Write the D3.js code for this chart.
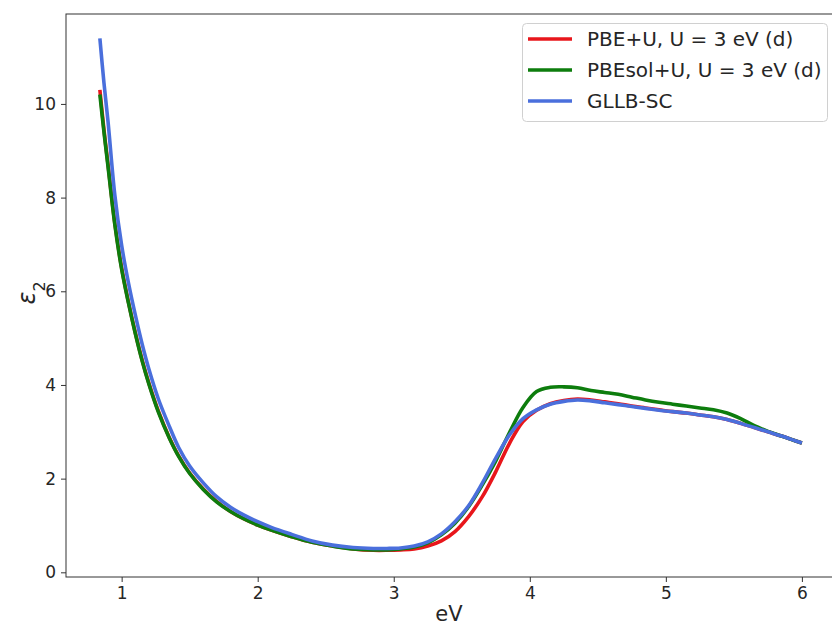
<!DOCTYPE html>
<html>
<head>
<meta charset="utf-8">
<script src="https://cdn.jsdelivr.net/npm/d3@7"></script>
<style>
  html, body { margin: 0; padding: 0; background: #fff; }
  svg { display: block; }
  text { font-family: "DejaVu Sans", sans-serif; fill: #262626; }
</style>
</head>
<body>
<svg id="chart" width="832" height="626"></svg>
<script>
// ---- Data ----
const xTicks = [1, 2, 3, 4, 5, 6];
const yTicks = [0, 2, 4, 6, 8, 10];
const seriesNames = ["PBE+U, U = 3 eV (d)", "PBEsol+U, U = 3 eV (d)", "GLLB-SC"];
const seriesColors = ["#e8161b", "#0d7d0d", "#4a6fdc"];

const energy = [0.84, 0.87, 0.90, 0.95, 1.00, 1.05, 1.10, 1.15, 1.20, 1.27, 1.35, 1.42, 1.50, 1.60, 1.70,
  1.80, 1.90, 2.00, 2.10, 2.25, 2.40, 2.55, 2.70, 2.85, 2.95, 3.05, 3.15, 3.25, 3.35, 3.45,
  3.55, 3.65, 3.75, 3.85, 3.95, 4.05, 4.15, 4.25, 4.35, 4.45, 4.55, 4.65, 4.75, 4.85, 4.95,
  5.05, 5.15, 5.25, 5.35, 5.45, 5.55, 5.65, 5.75, 5.85, 5.95, 6.00];

const pbeU = [10.30, 9.45, 8.70, 7.45, 6.50, 5.77, 5.12, 4.54, 4.04, 3.44, 2.88, 2.48, 2.12, 1.78, 1.51,
  1.30, 1.14, 1.01, 0.90, 0.76, 0.64, 0.56, 0.50, 0.47, 0.47, 0.48, 0.50, 0.56, 0.67, 0.87,
  1.19, 1.61, 2.15, 2.75, 3.22, 3.46, 3.60, 3.67, 3.70, 3.68, 3.64, 3.60, 3.55, 3.51, 3.47,
  3.43, 3.40, 3.36, 3.32, 3.26, 3.18, 3.09, 3.00, 2.91, 2.81, 2.76];

const pbesolU = [10.20, 9.40, 8.66, 7.42, 6.47, 5.75, 5.10, 4.52, 4.02, 3.42, 2.87, 2.47, 2.11, 1.77, 1.50,
  1.30, 1.14, 1.01, 0.90, 0.76, 0.64, 0.56, 0.50, 0.48, 0.48, 0.50, 0.54, 0.63, 0.80, 1.05,
  1.40, 1.86, 2.38, 2.98, 3.52, 3.86, 3.95, 3.96, 3.94, 3.88, 3.84, 3.80, 3.74, 3.68, 3.63,
  3.59, 3.55, 3.51, 3.47, 3.40, 3.28, 3.13, 3.01, 2.91, 2.81, 2.76];

const gllbSC = [11.40, 10.45, 9.62, 8.05, 6.98, 6.18, 5.50, 4.88, 4.34, 3.70, 3.12, 2.66, 2.27, 1.91, 1.61,
  1.39, 1.22, 1.08, 0.96, 0.81, 0.67, 0.58, 0.53, 0.51, 0.51, 0.52, 0.56, 0.65, 0.82, 1.08,
  1.42, 1.90, 2.44, 2.93, 3.28, 3.47, 3.59, 3.65, 3.68, 3.66, 3.62, 3.58, 3.54, 3.50, 3.46,
  3.43, 3.40, 3.36, 3.32, 3.26, 3.18, 3.09, 3.00, 2.91, 2.81, 2.76];

const seriesValues = [pbeU, pbesolU, gllbSC];

// ---- Layout ----
const svg = d3.select("#chart");
const padL = 66, padT = 14, padB = 577, padR = 837;

const x = d3.scaleLinear().domain([0.591, 6.258]).range([padL, padR]);
const y = d3.scaleLinear().domain([-0.1, 11.92]).range([padB, padT]);

// frame
svg.append("rect")
  .attr("x", padL).attr("y", padT)
  .attr("width", padR - padL).attr("height", padB - padT)
  .attr("fill", "none").attr("stroke", "#333").attr("stroke-width", 1);

// axes
const xAxis = d3.axisBottom(x).tickValues(xTicks).tickSize(5).tickPadding(5).tickFormat(d3.format("d"));
const yAxis = d3.axisLeft(y).tickValues(yTicks).tickSize(5).tickPadding(5).tickFormat(d3.format("d"));

const gx = svg.append("g").attr("transform", `translate(0,${padB})`).call(xAxis);
const gy = svg.append("g").attr("transform", `translate(${padL},0)`).call(yAxis);
[gx, gy].forEach(g => {
  g.select(".domain").remove();
  g.selectAll(".tick line").attr("stroke", "#333");
  g.selectAll(".tick text").style("font-size", "17px").attr("fill", "#262626");
});

// lines
svg.append("clipPath").attr("id", "clip").append("rect")
  .attr("x", padL).attr("y", padT).attr("width", padR - padL).attr("height", padB - padT);

const line = d3.line()
  .x((d, i) => x(energy[i]))
  .y(d => y(d))
  .curve(d3.curveCatmullRom.alpha(0.5));

seriesValues.forEach((vals, k) => {
  svg.append("path")
    .datum(vals)
    .attr("d", line)
    .attr("fill", "none")
    .attr("stroke", seriesColors[k])
    .attr("stroke-width", 3.6)
    .attr("stroke-linejoin", "round")
    .attr("clip-path", "url(#clip)");
});

// axis labels
svg.append("text")
  .attr("x", 449).attr("y", 621)
  .attr("text-anchor", "middle")
  .style("font-size", "21px")
  .text("eV");

const yl = svg.append("text")
  .attr("transform", "translate(35,293) rotate(-90)")
  .attr("text-anchor", "middle")
  .style("font-size", "24px");
yl.append("tspan").style("font-style", "italic").text("ε");
yl.append("tspan").attr("baseline-shift", "sub").style("font-size", "16px").text("2");

// legend
const lg = svg.append("g");
lg.append("rect")
  .attr("x", 522.5).attr("y", 23.5).attr("width", 305).attr("height", 98)
  .attr("rx", 4).attr("ry", 4)
  .attr("fill", "#fff").attr("fill-opacity", 0.8)
  .attr("stroke", "#d0d0d0").attr("stroke-width", 1);

seriesNames.forEach((name, k) => {
  const yy = 39 + k * 31;
  lg.append("line")
    .attr("x1", 528).attr("x2", 572)
    .attr("y1", yy).attr("y2", yy)
    .attr("stroke", seriesColors[k]).attr("stroke-width", 3.6);
  lg.append("text")
    .attr("x", 587).attr("y", yy + 7)
    .style("font-size", "20px")
    .text(name);
});
</script>
</body>
</html>
